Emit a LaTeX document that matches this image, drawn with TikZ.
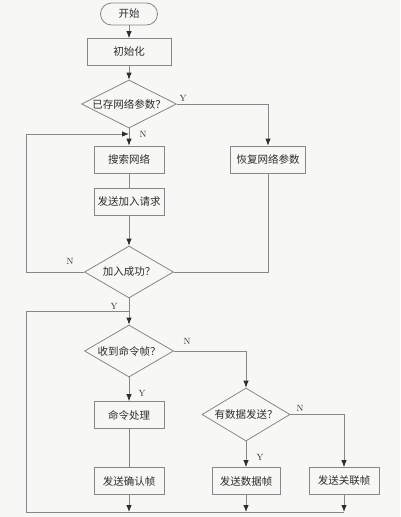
\documentclass[tikz,border=0pt]{standalone}
\usepackage{fontspec}
\usepackage{tikz}
\usetikzlibrary{positioning, shapes.geometric, arrows.meta}
\newfontfamily\cjk{Noto Sans CJK SC}
\definecolor{lineColor}{RGB}{135,135,135}
\definecolor{textColor}{RGB}{45,45,45}
\definecolor{paperColor}{RGB}{247,247,245}
\tikzstyle{chart} = [x = 1pt, y = -1pt]
\tikzstyle{stepBox} = [draw=lineColor, fill=paperColor, line width=.8pt, inner sep=0pt, minimum height=27pt, text=textColor, font=\cjk\fontsize{10.5}{12}\selectfont]
\tikzstyle{startBox} = [stepBox, rounded corners=11pt, minimum height=22pt]
\tikzstyle{testBox} = [stepBox, diamond]
\tikzstyle{flowLine} = [draw=lineColor, line width=.8pt]
\tikzstyle{flowArrow} = [flowLine, -{Latex[length=7pt, width=5.5pt, color=textColor]}]
\tikzstyle{flowText} = [text=textColor, font=\fontsize{9}{10}\selectfont, inner sep=0pt]
\newcommand{\stepNode}[4]{\node [stepBox, minimum width=#3] (#1) at (#2) {#4};}
\newcommand{\testNode}[5]{\node [testBox, minimum width=#3, minimum height=#4] (#1) at (#2) {\makebox[0pt]{#5}};}
\newcommand{\flowLabel}[3]{\node [flowText] (#1) at (#2) {#3};}
\begin{document}
\begin{tikzpicture}[chart]
  \fill [paperColor] (0,0) rectangle (400,517);
  \useasboundingbox (0,0) rectangle (400,517);

  \node [startBox, minimum width=57pt] (start) at (129,14) {开始};
  \stepNode{init}{129,52}{84pt}{初始化}
  \testNode{hasParams}{129,104}{95pt}{48pt}{已存网络参数？}
  \stepNode{search}{129,159.5}{70pt}{搜索网络}
  \stepNode{restore}{268,159.5}{75pt}{恢复网络参数}
  \stepNode{joinReq}{129,201.5}{70pt}{发送加入请求}
  \testNode{joinOk}{129,272}{89pt}{52pt}{加入成功？}
  \testNode{gotCmd}{129,351}{89pt}{52pt}{收到命令帧？}
  \stepNode{cmdProc}{129,415}{70pt}{命令处理}
  \testNode{hasData}{246,414.5}{88pt}{53pt}{有数据发送？}
  \stepNode{sendAck}{129,481}{70pt}{发送确认帧}
  \stepNode{sendData}{246,481}{68pt}{发送数据帧}
  \stepNode{sendAssoc}{344,481}{70pt}{发送关联帧}

  \coordinate (loopIn) at (129,134);
  \coordinate (loopCorner) at (26,134);
  \coordinate (reentry) at (129,311);
  \coordinate (railLeft) at (26,512);
  \coordinate (railRight) at (344,512);

  \draw [flowArrow] (start) -- (init);
  \draw [flowArrow] (init) -- (hasParams);
  \draw [flowArrow] (hasParams.south) -- (search.north);
  \draw [flowArrow] (hasParams.east) -| (restore.north);
  \draw [flowLine] (search) -- (joinReq);
  \draw [flowArrow] (joinReq) -- (joinOk);
  \draw [flowArrow] (joinOk.west) -| (loopCorner) -- (loopIn);
  \draw [flowLine] (joinOk.east) -| (restore.south);
  \draw [flowArrow] (joinOk.south) -- (gotCmd.north);
  \draw [flowArrow] (gotCmd.south) -- (cmdProc.north);
  \draw [flowArrow] (gotCmd.east) -| (hasData.north);
  \draw [flowLine] (cmdProc) -- (sendAck);
  \draw [flowArrow] (hasData.south) -- (sendData.north);
  \draw [flowArrow] (hasData.east) -| (sendAssoc.north);
  \draw [flowArrow] (sendAck.south) -- (sendAck.south |- railLeft);
  \draw [flowArrow] (sendData.south) -- (sendData.south |- railLeft);
  \draw [flowArrow] (sendAssoc.south) -- (railRight);
  \draw [flowLine] (railRight) -- (railLeft) |- (reentry);

  \flowLabel{hasParamsY}{183,98}{Y}
  \flowLabel{hasParamsN}{143,134}{N}
  \flowLabel{joinOkN}{70,261}{N}
  \flowLabel{joinOkY}{114,306}{Y}
  \flowLabel{gotCmdN}{187,341}{N}
  \flowLabel{gotCmdY}{142,393}{Y}
  \flowLabel{hasDataN}{300,408}{N}
  \flowLabel{hasDataY}{260,457}{Y}
\end{tikzpicture}
\end{document}
